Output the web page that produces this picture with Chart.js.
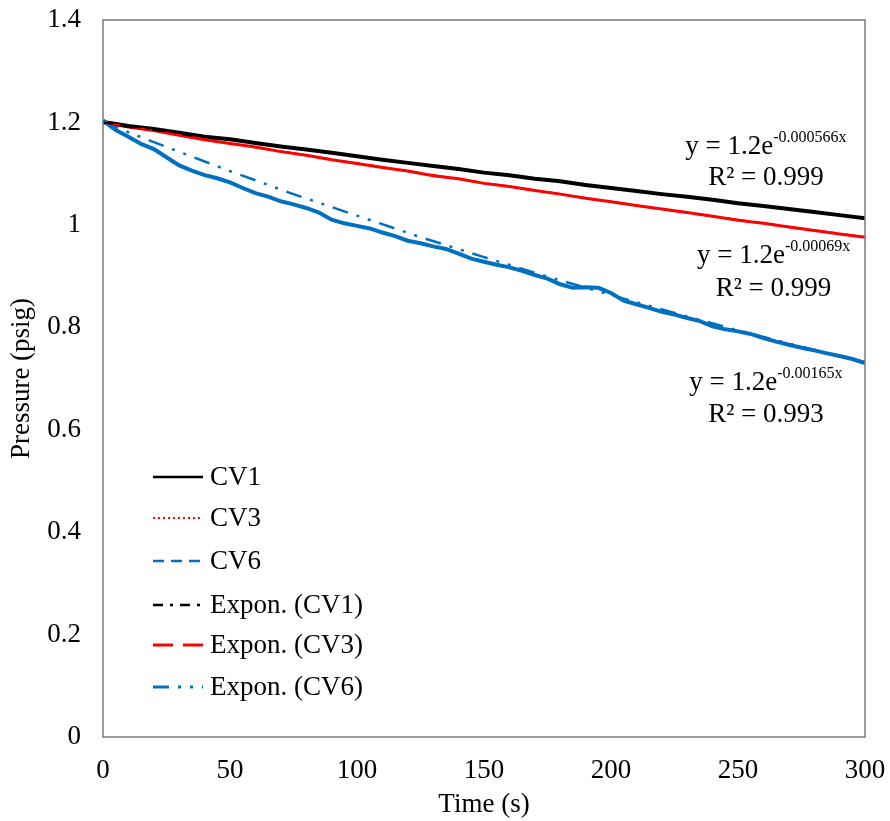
<!DOCTYPE html>
<html>
<head>
<meta charset="utf-8">
<script src="https://cdn.jsdelivr.net/npm/chart.js@4.4.1/dist/chart.umd.min.js"></script>
<style>
html,body{margin:0;padding:0;background:#fff;}
#wrap{width:890px;height:821px;}
</style>
</head>
<body>
<div id="wrap"><canvas id="c" width="890" height="821"></canvas></div>
<script>
// ---- Data ----
const timeFine = [0,5,10,15,20,25,30,35,40,45,50,55,60,65,70,75,80,85,90,95,100,105,110,115,120,125,130,135,140,145,150,155,160,165,170,175,180,185,190,195,200,205,210,215,220,225,230,235,240,245,250,255,260,265,270,275,280,285,290,295,300];
const timeCoarse = [0,10,20,30,40,50,60,70,80,90,100,110,120,130,140,150,160,170,180,190,200,210,220,230,240,250,260,270,280,290,300];
const timeTrend = [0,25,50,75,100,125,150,175,200,225,250,275,300];

const cv1 = [1.201,1.193,1.187,1.180,1.172,1.167,1.160,1.153,1.147,1.141,1.134,1.127,1.121,1.115,1.109,1.102,1.097,1.090,1.085,1.078,1.072,1.066,1.060,1.055,1.049,1.042,1.037,1.031,1.025,1.019,1.013];
const cv3 = [1.200,1.191,1.184,1.175,1.166,1.159,1.152,1.143,1.136,1.127,1.120,1.112,1.105,1.096,1.090,1.081,1.075,1.067,1.060,1.052,1.045,1.038,1.031,1.024,1.017,1.009,1.003,0.996,0.989,0.982,0.976];
const cv6 = [1.204,1.185,1.172,1.158,1.148,1.132,1.116,1.106,1.097,1.091,1.083,1.072,1.062,1.055,1.046,1.040,1.033,1.024,1.010,1.003,0.998,0.993,0.985,0.978,0.969,0.964,0.958,0.953,0.944,0.934,0.928,0.922,0.917,0.910,0.902,0.895,0.884,0.877,0.878,0.877,0.867,0.852,0.845,0.838,0.830,0.825,0.818,0.812,0.802,0.796,0.792,0.787,0.779,0.772,0.766,0.760,0.755,0.749,0.744,0.738,0.730];

const trendCV1 = [1.200,1.183,1.167,1.150,1.134,1.118,1.102,1.087,1.072,1.057,1.042,1.027,1.013];
const trendCV3 = [1.200,1.180,1.159,1.140,1.120,1.101,1.082,1.064,1.045,1.027,1.010,0.993,0.976];
const trendCV6 = [1.200,1.152,1.105,1.060,1.018,0.976,0.937,0.899,0.863,0.828,0.794,0.762,0.732];

const xTicks = [0,50,100,150,200,250,300];
const yTicks = [0,0.2,0.4,0.6,0.8,1.0,1.2,1.4];

const seriesNames = ['CV1','CV3','CV6','Expon. (CV1)','Expon. (CV3)','Expon. (CV6)'];
const equations = [
  {base:'y = 1.2e', sup:'-0.000566x', r2:'R\u00b2 = 0.999'},
  {base:'y = 1.2e', sup:'-0.00069x',  r2:'R\u00b2 = 0.999'},
  {base:'y = 1.2e', sup:'-0.00165x',  r2:'R\u00b2 = 0.993'}
];

const BLACK = '#000000', RED = '#ff0000', BLUE = '#0070c0';
const FONT = '"Liberation Serif", "Times New Roman", serif';

function pts(xs, ys){ return xs.map((x,i)=>({x:x, y:ys[i]})); }

const legendStyles = [
  {color:BLACK, dash:[], width:2.5},
  {color:RED, dash:[2,3], width:2},
  {color:BLUE, dash:[11,7], width:2.5},
  {color:BLACK, dash:[10,7,3,7], width:2.5},
  {color:RED, dash:[20,10], width:3},
  {color:BLUE, dash:[16,9,3,9,3,9], width:3}
];

const overlay = {
  id:'overlay',
  afterDraw(chart){
    const ctx = chart.ctx, a = chart.chartArea;
    const xs = chart.scales.x, ys = chart.scales.y;
    ctx.save();
    // plot frame
    ctx.strokeStyle = '#7a7a7a';
    ctx.lineWidth = 1.5;
    ctx.setLineDash([]);
    ctx.strokeRect(a.left, a.top, a.right - a.left, a.bottom - a.top);

    // legend inside plot
    const lx0 = a.left + 50, lx1 = a.left + 100, tx = a.left + 107;
    const rowY = [477, 518, 561, 605, 645, 687];
    ctx.font = '27px ' + FONT;
    ctx.textBaseline = 'middle';
    ctx.textAlign = 'left';
    seriesNames.forEach((n,i)=>{
      const s = legendStyles[i];
      ctx.beginPath();
      ctx.strokeStyle = s.color;
      ctx.lineWidth = s.width;
      ctx.setLineDash(s.dash);
      ctx.moveTo(lx0, rowY[i]); ctx.lineTo(lx1, rowY[i]);
      ctx.stroke();
      ctx.setLineDash([]);
      ctx.fillStyle = '#000';
      ctx.fillText(n, tx, rowY[i] + 1);
    });

    // trendline equations (anchored by data coordinates)
    const anchors = [
      {t:261, v:1.156, v2:1.095},
      {t:264, v:0.944, v2:0.879},
      {t:261, v:0.695, v2:0.633}
    ];
    equations.forEach((e,i)=>{
      const cx = xs.getPixelForValue(anchors[i].t);
      const y1 = ys.getPixelForValue(anchors[i].v);
      const y2 = ys.getPixelForValue(anchors[i].v2);
      ctx.font = '27px ' + FONT;
      const wb = ctx.measureText(e.base).width;
      ctx.font = '16px ' + FONT;
      const ws = ctx.measureText(e.sup).width;
      const left = cx - (wb + ws)/2;
      ctx.fillStyle = '#000';
      ctx.textAlign = 'left';
      ctx.textBaseline = 'alphabetic';
      ctx.font = '27px ' + FONT;
      ctx.fillText(e.base, left, y1 + 9);
      ctx.font = '16px ' + FONT;
      ctx.fillText(e.sup, left + wb, y1 - 3);
      ctx.font = '27px ' + FONT;
      ctx.textAlign = 'center';
      ctx.fillText(e.r2, cx, y2 + 9);
    });
    ctx.restore();
  }
};

new Chart(document.getElementById('c'), {
  type:'line',
  data:{
    datasets:[
      {label:seriesNames[0], data:pts(timeCoarse, cv1), borderColor:BLACK, borderWidth:4, pointRadius:0, order:2},
      {label:seriesNames[1], data:pts(timeCoarse, cv3), borderColor:RED, borderWidth:3, pointRadius:0, order:3},
      {label:seriesNames[2], data:pts(timeFine, cv6), borderColor:BLUE, borderWidth:4, pointRadius:0, order:1},
      {label:seriesNames[3], data:pts(timeTrend, trendCV1), borderColor:BLACK, borderWidth:2, borderDash:[10,7,3,7], pointRadius:0, order:0},
      {label:seriesNames[4], data:pts(timeTrend, trendCV3), borderColor:RED, borderWidth:2, borderDash:[20,10], pointRadius:0, order:0},
      {label:seriesNames[5], data:pts(timeTrend, trendCV6), borderColor:BLUE, borderWidth:2.5, borderDash:[16,9,3,9,3,9], pointRadius:0, order:0}
    ]
  },
  options:{
    responsive:false,
    animation:false,
    events:[],
    layout:{padding:{left:0,right:25,top:20,bottom:0}, autoPadding:false},
    plugins:{legend:{display:false}, tooltip:{enabled:false}},
    scales:{
      x:{
        type:'linear', min:0, max:300,
        afterBuildTicks(s){ s.ticks = xTicks.map(v=>({value:v})); },
        afterFit(s){ s.height = 84; s.paddingLeft = 0; s.paddingRight = 0; },
        grid:{display:false, drawTicks:false},
        border:{display:false},
        ticks:{color:'#000', font:{family:FONT, size:27}, padding:18, maxRotation:0},
        title:{display:true, text:'Time (s)', color:'#000', font:{family:FONT, size:27}, padding:{top:0,bottom:0}}
      },
      y:{
        type:'linear', min:0, max:1.4,
        afterBuildTicks(s){ s.ticks = yTicks.map(v=>({value:v})); },
        afterFit(s){ s.width = 103; s.paddingTop = 0; s.paddingBottom = 0; },
        grid:{display:false, drawTicks:false},
        border:{display:false},
        ticks:{color:'#000', font:{family:FONT, size:27}, padding:22,
               callback:(v)=>String(Number(v.toFixed(1)))},
        title:{display:true, text:'Pressure (psig)', color:'#000', font:{family:FONT, size:27}, padding:{top:6,bottom:0}}
      }
    }
  },
  plugins:[overlay]
});
</script>
</body>
</html>
